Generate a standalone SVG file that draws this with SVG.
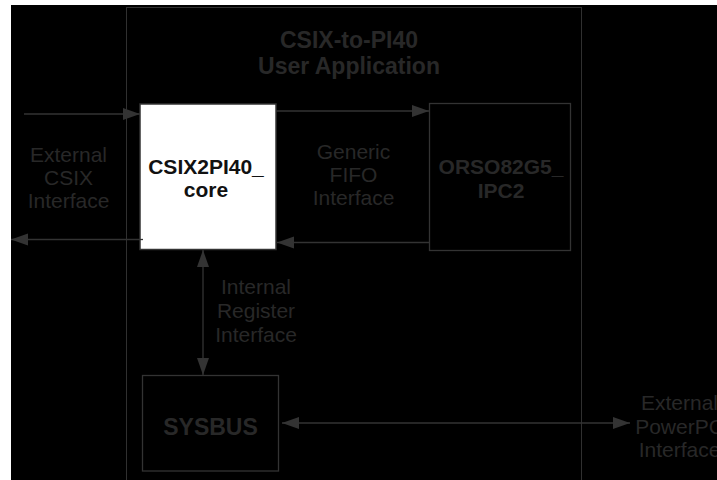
<svg xmlns="http://www.w3.org/2000/svg" width="717" height="480" viewBox="0 0 717 480">
<style>
.bg{fill:#000}
.frame{fill:none;stroke:#303030;stroke-width:1}
.box{fill:#000;stroke:#333;stroke-width:1.3}
.core{fill:#fff;stroke:#333;stroke-width:1.5}
.conn{stroke:#333;stroke-width:1.3;fill:none}
.lbl{font-family:"Liberation Sans",Arial,sans-serif;font-size:21px;fill:#282828;text-anchor:middle}
.bold{font-weight:bold}
.dark{fill:#111}
</style>
<defs>
<marker id="ah" markerUnits="userSpaceOnUse" markerWidth="17" markerHeight="13" refX="17" refY="6" orient="auto-start-reverse">
<path d="M0,0 L17,6 L0,12 z" fill="#333"/>
</marker>
</defs>
<rect x="0" y="0" width="717" height="480" fill="#fff"/>
<rect class="bg" x="11" y="5" width="706" height="475"/>
<g id="user-application">
<rect class="frame" x="126.5" y="7.5" width="455" height="480"/>
<text class="lbl bold" x="349" y="48" style="font-size:23px">CSIX-to-PI40</text>
<text class="lbl bold" x="349" y="74" style="font-size:23px">User Application</text>
</g>
<g id="connectors">
<line class="conn" x1="24" y1="114" x2="140" y2="114" marker-end="url(#ah)"/>
<line class="conn" x1="143" y1="239.5" x2="11" y2="239.5" marker-end="url(#ah)"/>
<line class="conn" x1="276" y1="111" x2="429" y2="111" marker-end="url(#ah)"/>
<line class="conn" x1="429" y1="242.5" x2="277" y2="242.5" marker-end="url(#ah)"/>
<line class="conn" x1="203" y1="250" x2="203" y2="375" marker-start="url(#ah)" marker-end="url(#ah)"/>
<line class="conn" x1="282" y1="423" x2="630" y2="423" marker-start="url(#ah)" marker-end="url(#ah)"/>
</g>
<g id="csix2pi40-core">
<rect class="core" x="140" y="104" width="136" height="145.5"/>
<line class="conn" x1="140" y1="239.5" x2="143" y2="239.5"/>
<text class="lbl bold dark" x="206" y="174">CSIX2PI40_</text>
<text class="lbl bold dark" x="206" y="197">core</text>
</g>
<g id="orso82g5-ipc2">
<rect class="box" x="429.5" y="103.5" width="141" height="147"/>
<text class="lbl bold" x="501" y="174">ORSO82G5_</text>
<text class="lbl bold" x="501" y="197.5">IPC2</text>
</g>
<g id="sysbus">
<rect class="box" x="142.5" y="375.5" width="136" height="95.5"/>
<text class="lbl bold" x="210.5" y="435" style="font-size:23px">SYSBUS</text>
</g>
<g id="external-csix">
<text class="lbl" x="68.5" y="161.5">External</text>
<text class="lbl" x="68.5" y="184.5">CSIX</text>
<text class="lbl" x="68.5" y="208">Interface</text>
</g>
<g id="generic-fifo">
<text class="lbl" x="353.5" y="158.5">Generic</text>
<text class="lbl" x="353.5" y="181.5">FIFO</text>
<text class="lbl" x="353.5" y="205">Interface</text>
</g>
<g id="internal-register">
<text class="lbl" x="256" y="294">Internal</text>
<text class="lbl" x="256" y="318">Register</text>
<text class="lbl" x="256" y="341.5">Interface</text>
</g>
<g id="external-powerpc">
<text class="lbl" x="679.5" y="410">External</text>
<text class="lbl" x="679.5" y="433.5">PowerPC</text>
<text class="lbl" x="679.5" y="457">Interface</text>
</g>
</svg>
